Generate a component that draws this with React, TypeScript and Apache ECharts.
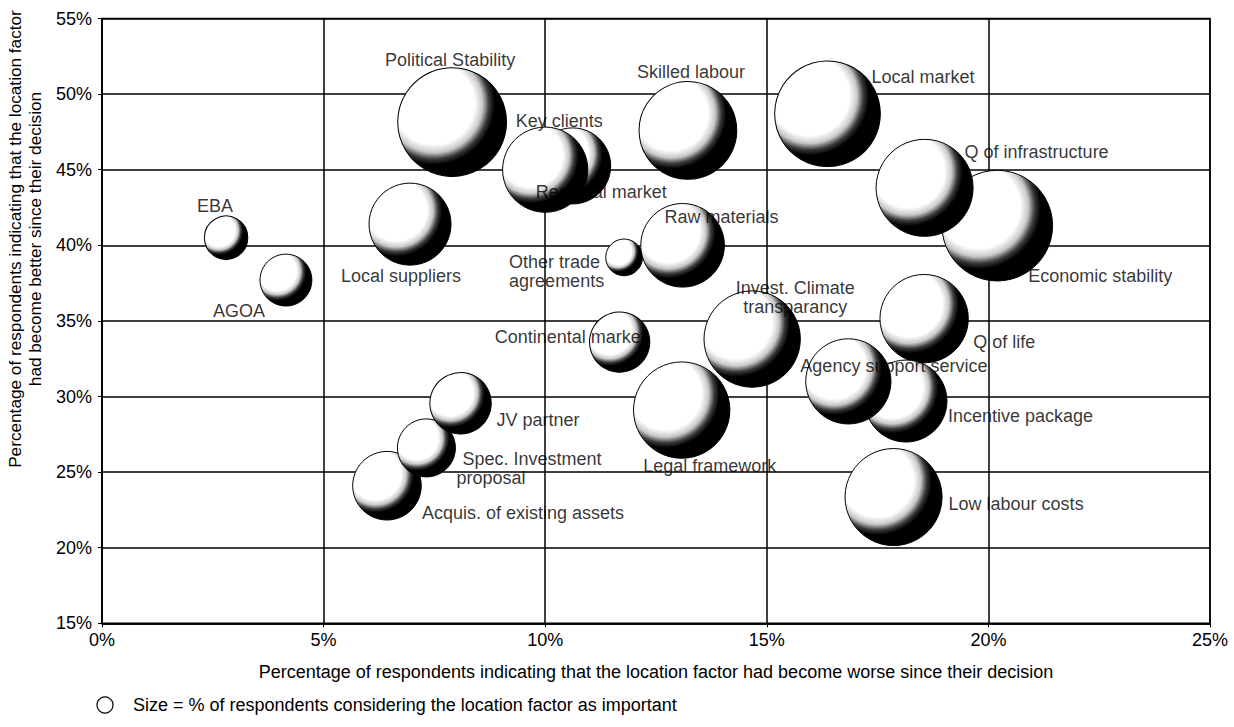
import React, { useEffect, useRef } from "react";
import * as echarts from "echarts";

// Location factors (draw order: later items lie on top)
const factors = [
  "EBA",
  "AGOA",
  "Local suppliers",
  "Political Stability",
  "Regional market",
  "Key clients",
  "Skilled labour",
  "Other trade\nagreements",
  "Raw materials",
  "Local market",
  "Economic stability",
  "Q of infrastructure",
  "Q of life",
  "Incentive package",
  "Agency support service",
  "Low labour costs",
  "Invest. Climate\ntransparancy",
  "Continental market",
  "Legal framework",
  "Acquis. of existing assets",
  "Spec. Investment\nproposal",
  "JV partner",
];
// % of respondents: factor had become worse (x)
const worse = [2.8, 4.15, 6.95, 7.9, 10.62, 10.0, 13.22, 11.78, 13.1, 16.37, 20.2, 18.56, 18.55, 18.14, 16.84, 17.86, 14.67, 11.68, 13.08, 6.43, 7.32, 8.09];
// % of respondents: factor had become better (y)
const better = [40.5, 37.7, 41.4, 48.15, 45.25, 45.0, 47.6, 39.2, 40.0, 48.7, 41.3, 43.8, 35.15, 29.7, 31.0, 23.35, 33.8, 33.6, 29.1, 24.1, 26.6, 29.55];
// % of respondents considering the factor important (bubble size)
const importance = [14, 20, 50, 88, 43, 54, 71, 10, 52, 83, 91, 70, 58, 50, 54, 70, 69, 27, 69, 35, 25, 28];

const xTicks = [0, 5, 10, 15, 20, 25];
const yTicks = [15, 20, 25, 30, 35, 40, 45, 50, 55];

// label placement (layout only): offset from bubble centre
const labelLayout: Record<string, { dx: number; dy: number; align: "left" | "center" }> = {
  "EBA": { dx: -11, dy: -32, align: "center" },
  "AGOA": { dx: -47, dy: 31, align: "center" },
  "Local suppliers": { dx: -9, dy: 52, align: "center" },
  "Political Stability": { dx: -2, dy: -62, align: "center" },
  "Regional market": { dx: -37, dy: 26, align: "left" },
  "Key clients": { dx: 14, dy: -49, align: "center" },
  "Skilled labour": { dx: 3, dy: -58, align: "center" },
  "Other trade\nagreements": { dx: -115, dy: 14, align: "left" },
  "Raw materials": { dx: -18, dy: -28, align: "left" },
  "Local market": { dx: 44, dy: -37, align: "left" },
  "Economic stability": { dx: 31, dy: 50, align: "left" },
  "Q of infrastructure": { dx: 40, dy: -36, align: "left" },
  "Q of life": { dx: 49, dy: 23, align: "left" },
  "Incentive package": { dx: 42, dy: 15, align: "left" },
  "Agency support service": { dx: -48, dy: -15, align: "left" },
  "Low labour costs": { dx: 55, dy: 7, align: "left" },
  "Invest. Climate\ntransparancy": { dx: 43, dy: -42, align: "center" },
  "Continental market": { dx: -125, dy: -5, align: "left" },
  "Legal framework": { dx: 28, dy: 56, align: "center" },
  "Acquis. of existing assets": { dx: 35, dy: 27, align: "left" },
  "Spec. Investment\nproposal": { dx: 30, dy: 21, align: "left" },
  "JV partner": { dx: 36, dy: 17, align: "left" },
};

const FONT = "'Liberation Sans', Arial, Helvetica, sans-serif";

export default function App() {
  const ref = useRef<HTMLDivElement>(null);
  useEffect(() => {
    if (!ref.current) return;
    const chart = echarts.init(ref.current, null, { renderer: "svg" });
    const sphere = new echarts.graphic.RadialGradient(0.33, 0.33, 0.75, [
      { offset: 0, color: "#ffffff" },
      { offset: 0.5, color: "#ffffff" },
      { offset: 0.6, color: "#c8c8c8" },
      { offset: 0.68, color: "#3a3a3a" },
      { offset: 0.75, color: "#000000" },
      { offset: 1, color: "#000000" },
    ]);
    const bubbleData = factors.map((n, i) => ({ name: n, value: [worse[i], better[i], importance[i]] }));
    const labelData = factors.map((n, i) => {
      const l = labelLayout[n];
      const item: any = {
        name: n,
        value: [worse[i], better[i]],
        label: { align: l.align, position: [l.dx, l.dy] },
      };
      if (n === "Spec. Investment\nproposal") {
        item.label.formatter = "{a|Spec. Investment}\n{b|proposal}";
        item.label.rich = {
          a: { fontSize: 18, fontFamily: FONT, color: "#000", padding: [0, 0, 0, 6], lineHeight: 19 },
          b: { fontSize: 18, fontFamily: FONT, color: "#000", lineHeight: 19 },
        };
      }
      return item;
    });
    chart.setOption({
      animation: false,
      backgroundColor: "#ffffff",
      textStyle: { fontFamily: FONT },
      grid: { left: 102, right: 24, top: 18.5, bottom: 103.7, show: true, borderColor: "#000", borderWidth: 1.5, outerBoundsMode: "none" },
      xAxis: {
        type: "value",
        min: xTicks[0],
        max: xTicks[xTicks.length - 1],
        interval: 5,
        name: "Percentage of respondents indicating that the location factor had become worse since their decision",
        nameLocation: "middle",
        nameGap: 40,
        nameTextStyle: { fontSize: 18, color: "#000", fontFamily: FONT },
        axisLine: { lineStyle: { color: "#000", width: 1.5 } },
        axisTick: { show: true, length: 4, lineStyle: { color: "#000" } },
        axisLabel: { formatter: "{value}%", fontSize: 18, color: "#000", margin: 8, fontFamily: FONT },
        splitLine: { show: true, lineStyle: { color: "#000", width: 1.5 } },
      },
      yAxis: {
        type: "value",
        min: yTicks[0],
        max: yTicks[yTicks.length - 1],
        interval: 5,
        axisLine: { lineStyle: { color: "#000", width: 1.5 } },
        axisTick: { show: true, length: 4, lineStyle: { color: "#000" } },
        axisLabel: { formatter: "{value}%", fontSize: 18, color: "#000", margin: 10, fontFamily: FONT },
        splitLine: { show: true, lineStyle: { color: "#000", width: 1.5 } },
      },
      series: [
        {
          type: "scatter",
          data: bubbleData,
          symbol: "circle",
          symbolSize: (v: number[]) => 11.6 * Math.sqrt(v[2]),
          itemStyle: { color: sphere, borderColor: "#000", borderWidth: 1, opacity: 1 },
          emphasis: { disabled: true },
          silent: true,
          z: 3,
        },
        {
          type: "scatter",
          data: labelData,
          symbol: "circle",
          symbolSize: 0,
          itemStyle: { color: "rgba(0,0,0,0)" },
          silent: true,
          z: 5,
          label: {
            show: true,
            formatter: "{b}",
            fontSize: 18,
            lineHeight: 19,
            color: "#000",
            fontFamily: FONT,
            verticalAlign: "middle",
            textBorderWidth: 0,
          },
        },
      ],
      graphic: [
        {
          type: "text",
          x: 25,
          y: 239,
          rotation: Math.PI / 2,
          style: {
            text: "Percentage of respondents indicating that the location factor\nhad become better since their decision",
            fontSize: 17.2,
            lineHeight: 20,
            fontFamily: FONT,
            fill: "#000",
            align: "center",
            verticalAlign: "middle",
          },
        },
        { type: "circle", shape: { cx: 105, cy: 705, r: 8 }, style: { fill: "#fff", stroke: "#000", lineWidth: 1.2 } },
        {
          type: "text",
          x: 133,
          y: 705,
          style: {
            text: "Size = % of respondents considering the location factor as important",
            fontSize: 18,
            fontFamily: FONT,
            fill: "#000",
            verticalAlign: "middle",
            align: "left",
          },
        },
      ],
    });
    return () => chart.dispose();
  }, []);
  return <div ref={ref} style={{ position: "fixed", left: 0, top: 0, width: 1234, height: 727 }} />;
}
